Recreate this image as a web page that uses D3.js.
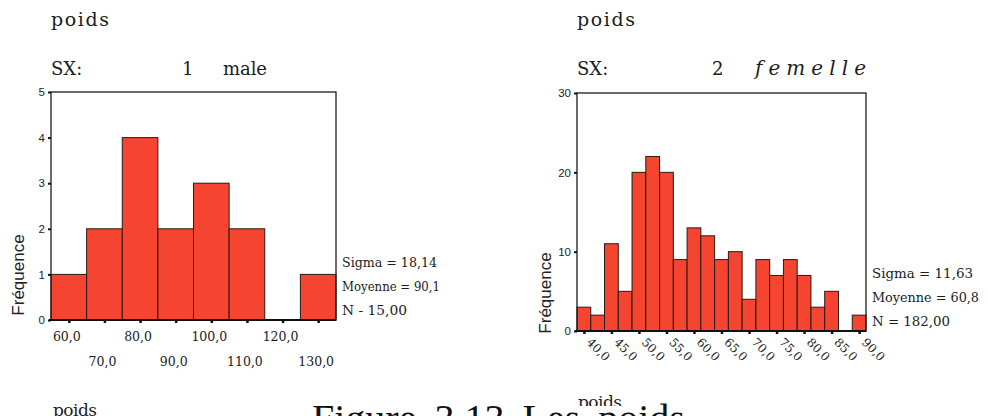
<!DOCTYPE html>
<html>
<head>
<meta charset="utf-8">
<script src="https://cdn.jsdelivr.net/npm/d3@7"></script>
<style>
  body { margin: 0; background: #fff; }
  svg { display: block; }
</style>
</head>
<body>
<svg id="chart" width="988" height="416"></svg>
<script>
// Weight (poids) histograms split by sex (SX)

// Males
const maleBinCenters = [60, 70, 80, 90, 100, 110, 120, 130];
const maleCounts = [1, 2, 4, 2, 3, 2, 0, 1];
const maleYTicks = [0, 1, 2, 3, 4, 5];
const maleTickLabels = ["60,0", "70,0", "80,0", "90,0", "100,0", "110,0", "120,0", "130,0"];
const maleStats = ["Sigma = 18,14", "Moyenne = 90,1", "N - 15,00"];

// Females
const femaleBinCenters = [40, 42.5, 45, 47.5, 50, 52.5, 55, 57.5, 60, 62.5, 65,
                          67.5, 70, 72.5, 75, 77.5, 80, 82.5, 85, 87.5, 90];
const femaleCounts = [3, 2, 11, 5, 20, 22, 20, 9, 13, 12, 9,
                      10, 4, 9, 7, 9, 7, 3, 5, 0, 2];
const femaleYTicks = [0, 10, 20, 30];
const femaleTickValues = [40, 45, 50, 55, 60, 65, 70, 75, 80, 85, 90];
const femaleTickLabels = ["40,0", "45,0", "50,0", "55,0", "60,0", "65,0",
                          "70,0", "75,0", "80,0", "85,0", "90,0"];
const femaleStats = ["Sigma = 11,63", "Moyenne = 60,8", "N = 182,00"];

const svg = d3.select("#chart");
const SERIF = "'DejaVu Serif', 'Liberation Serif', serif";
const SANS = "'Liberation Sans', Arial, sans-serif";
const BAR = "#f5442f";
const INK = "#1c1c1c";

function panel(opt) {
  const g = svg.append("g");
  const half = opt.binWidth / 2;
  const x = d3.scaleLinear()
    .domain([opt.centers[0] - half, opt.centers[opt.centers.length - 1] + half])
    .range([opt.left, opt.right]);
  const y = d3.scaleLinear().domain([0, opt.yMax]).range([opt.bottom, opt.top]);

  // headings
  g.append("text").attr("x", opt.left).attr("y", 26)
    .attr("font-family", SERIF).attr("font-size", 19).attr("fill", INK)
    .attr("textLength", 58).attr("lengthAdjust", "spacing").text("poids");
  g.append("text").attr("x", opt.left).attr("y", 75)
    .attr("font-family", SERIF).attr("font-size", 18).attr("fill", INK)
    .text("SX:");
  g.append("text").attr("x", opt.codeX).attr("y", 75)
    .attr("font-family", SERIF).attr("font-size", 18).attr("fill", INK)
    .text(opt.code);
  g.append("text").attr("x", opt.labelX).attr("y", 75)
    .attr("font-family", SERIF).attr("font-size", opt.italic ? 20 : 18).attr("fill", INK)
    .attr("font-style", opt.italic ? "italic" : "normal")
    .attr("textLength", opt.labelW).attr("lengthAdjust", "spacing")
    .text(opt.label);

  // bars
  g.append("g").selectAll("rect").data(opt.counts).join("rect")
    .attr("x", (d, i) => x(opt.centers[i] - half))
    .attr("width", (d, i) => x(opt.centers[i] + half) - x(opt.centers[i] - half))
    .attr("y", d => y(d))
    .attr("height", d => y(0) - y(d))
    .attr("fill", BAR)
    .attr("stroke", d => d > 0 ? "#2a1a14" : "none")
    .attr("stroke-width", 1);

  // frame
  g.append("rect")
    .attr("x", opt.left).attr("y", y(opt.yMax))
    .attr("width", opt.right - opt.left).attr("height", y(0) - y(opt.yMax))
    .attr("fill", "none").attr("stroke", INK).attr("stroke-width", 1.3);
  g.append("line")
    .attr("x1", opt.left - 2).attr("x2", opt.right)
    .attr("y1", y(0)).attr("y2", y(0))
    .attr("stroke", "#111").attr("stroke-width", 2);

  // y axis
  const ya = g.append("g").attr("transform", `translate(${opt.left},0)`)
    .call(d3.axisLeft(y).tickValues(opt.yTicks).tickSize(3).tickPadding(3)
      .tickFormat(d3.format("d")));
  ya.select(".domain").remove();
  ya.selectAll(".tick line").attr("stroke", "#111").attr("stroke-width", 2);
  ya.selectAll(".tick text").attr("font-family", SANS).attr("font-size", 11.5)
    .attr("fill", "#222");

  // x axis ticks
  const xa = g.append("g").attr("transform", `translate(0,${y(0)})`)
    .call(d3.axisBottom(x).tickValues(opt.xTicks).tickSize(3).tickFormat(""));
  xa.select(".domain").remove();
  xa.selectAll(".tick line").attr("stroke", "#111").attr("stroke-width", 2.5);

  // y title
  g.append("text")
    .attr("transform", `translate(${opt.yTitleX},${opt.yTitleY}) rotate(-90)`)
    .attr("text-anchor", "middle")
    .attr("font-family", SANS).attr("font-size", 17).attr("fill", "#222")
    .text("Fréquence");

  // statistics
  g.selectAll("text.stat").data(opt.stats).join("text")
    .attr("class", "stat")
    .attr("x", opt.statX)
    .attr("y", (d, i) => opt.statY + i * opt.statStep)
    .attr("font-family", SERIF).attr("font-size", 12.5).attr("fill", INK)
    .attr("textLength", (d, i) => opt.statW[i]).attr("lengthAdjust", "spacingAndGlyphs")
    .text(d => d);

  return { g, x, y };
}

// left panel: males
const m = panel({
  centers: maleBinCenters, counts: maleCounts, binWidth: 10,
  left: 51, right: 336, top: 92, bottom: 320, yMax: 5,
  yTicks: maleYTicks, xTicks: maleBinCenters,
  code: "1", codeX: 182, label: "male", labelX: 223, labelW: 44, italic: false,
  yTitleX: 24, yTitleY: 275,
  stats: maleStats, statX: 342, statY: 267, statStep: 24, statW: [95, 98, 65]
});
m.g.append("g").selectAll("text").data(maleTickLabels).join("text")
  .attr("x", (d, i) => m.x(maleBinCenters[i]) - 2)
  .attr("y", (d, i) => i % 2 === 0 ? 341 : 366)
  .attr("text-anchor", "middle")
  .attr("font-family", SERIF).attr("font-size", 12.5).attr("fill", INK)
  .text(d => d);

// right panel: females
const f = panel({
  centers: femaleBinCenters, counts: femaleCounts, binWidth: 2.5,
  left: 577, right: 866, top: 93, bottom: 331, yMax: 30,
  yTicks: femaleYTicks, xTicks: femaleTickValues,
  code: "2", codeX: 712, label: "femelle", labelX: 755, labelW: 111, italic: true,
  yTitleX: 551, yTitleY: 293,
  stats: femaleStats, statX: 872, statY: 278, statStep: 24, statW: [101, 107, 78]
});
f.g.append("g").selectAll("text").data(femaleTickLabels).join("text")
  .attr("transform", (d, i) => `translate(${f.x(femaleTickValues[i]) + 2},${343}) rotate(45)`)
  .attr("font-family", SERIF).attr("font-size", 12).attr("fill", INK)
  .text(d => d);

// next-page remnants and figure caption, clipped at the bottom edge
svg.append("text").attr("x", 53).attr("y", 416)
  .attr("font-family", SERIF).attr("font-size", 17).attr("fill", INK)
  .attr("textLength", 44).attr("lengthAdjust", "spacing").text("poids");
svg.append("text").attr("x", 578).attr("y", 408)
  .attr("font-family", SERIF).attr("font-size", 17).attr("fill", INK)
  .attr("textLength", 44).attr("lengthAdjust", "spacing").text("poids");
svg.append("rect").attr("x", 300).attr("y", 406).attr("width", 420).attr("height", 12)
  .attr("fill", "#fff");
svg.append("text").attr("x", 312).attr("y", 432)
  .attr("font-family", "'Liberation Serif', 'Times New Roman', serif")
  .attr("font-size", 40).attr("word-spacing", 8).attr("fill", "#111")
  .text("Figure 3.13 Les poids");
</script>
</body>
</html>
